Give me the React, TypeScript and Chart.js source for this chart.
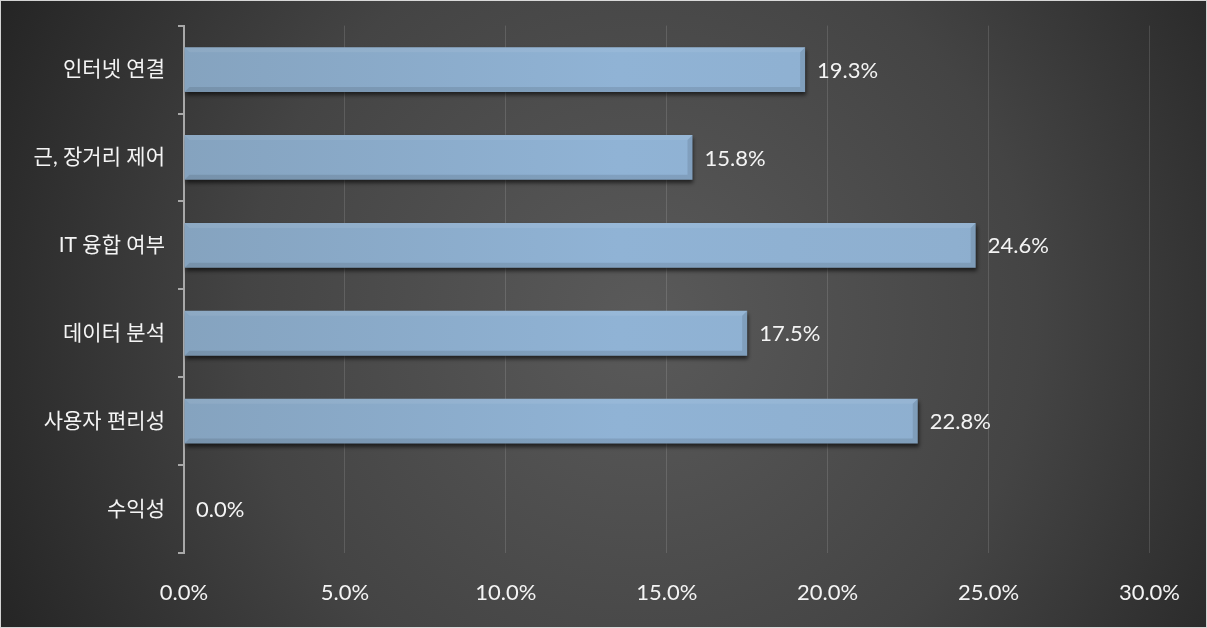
import React, { useEffect, useRef } from "react";
import { Chart, registerables } from "chart.js";

Chart.register(...registerables);

const categories = ["인터넷 연결", "근, 장거리 제어", "IT 융합 여부", "데이터 분석", "사용자 편리성", "수익성"];
const values = [19.3, 15.8, 24.6, 17.5, 22.8, 0.0];
const xTicks = [0, 5, 10, 15, 20, 25, 30];

const FONT = "Lato, 'Noto Sans CJK KR', sans-serif";

const bgPlugin = {
  id: "bg",
  beforeDraw(chart: any) {
    const { ctx, width, height } = chart;
    ctx.save();
    const g = ctx.createRadialGradient(640, 320, 0, 640, 320, 720);
    g.addColorStop(0, "#5a5a5a");
    g.addColorStop(0.55, "#444444");
    g.addColorStop(1, "#242424");
    ctx.fillStyle = g;
    ctx.fillRect(0, 0, width, height);
    ctx.strokeStyle = "rgba(255,255,255,0.8)";
    ctx.lineWidth = 1;
    ctx.strokeRect(0.5, 0.5, width - 1, height - 1);
    ctx.restore();
  },
};

const barDeco = {
  id: "barDeco",
  beforeDatasetsDraw(chart: any) {
    const ctx = chart.ctx;
    ctx.save();
    ctx.shadowColor = "rgba(0,0,0,0.6)";
    ctx.shadowBlur = 4;
    ctx.shadowOffsetX = 1;
    ctx.shadowOffsetY = 3;
  },
  afterDatasetsDraw(chart: any) {
    const ctx = chart.ctx;
    ctx.restore();
    const meta = chart.getDatasetMeta(0);
    ctx.save();
    meta.data.forEach((el: any, i: number) => {
      const p = el.getProps(["x", "y", "base", "height"], true);
      const left = Math.min(p.x, p.base);
      const right = Math.max(p.x, p.base);
      const top = p.y - p.height / 2;
      const bottom = p.y + p.height / 2;
      const w = right - left;
      if (w > 2) {
        const b = Math.min(5, w / 2);
        ctx.fillStyle = "rgba(255,255,255,0.07)";
        ctx.beginPath();
        ctx.moveTo(left, top);
        ctx.lineTo(right, top);
        ctx.lineTo(right - b, top + b);
        ctx.lineTo(left + b, top + b);
        ctx.closePath();
        ctx.fill();
        ctx.fillStyle = "rgba(0,0,0,0.10)";
        ctx.beginPath();
        ctx.moveTo(left, bottom);
        ctx.lineTo(right, bottom);
        ctx.lineTo(right - b, bottom - b);
        ctx.lineTo(left + b, bottom - b);
        ctx.closePath();
        ctx.fill();
        ctx.fillStyle = "rgba(0,0,0,0.10)";
        ctx.beginPath();
        ctx.moveTo(right, top);
        ctx.lineTo(right, bottom);
        ctx.lineTo(right - b, bottom - b);
        ctx.lineTo(right - b, top + b);
        ctx.closePath();
        ctx.fill();
      }
      ctx.fillStyle = "#f4f4f4";
      ctx.font = `22px ${FONT}`;
      ctx.textAlign = "left";
      ctx.textBaseline = "middle";
      ctx.fillText(values[i].toFixed(1) + "%", right + 12, p.y + 1);
    });
    ctx.restore();
  },
};

export default function App() {
  const ref = useRef<HTMLCanvasElement | null>(null);
  useEffect(() => {
    document.body.style.margin = "0";
    const canvas = ref.current;
    if (!canvas) return;
    const chart = new Chart(canvas, {
      type: "bar",
      data: {
        labels: categories,
        datasets: [
          {
            data: values,
            backgroundColor: (c: any) => {
              const { ctx, chartArea } = c.chart;
              if (!chartArea) return "#8aabca";
              const g = ctx.createLinearGradient(chartArea.left, 0, chartArea.right, 0);
              g.addColorStop(0, "#85a3bf");
              g.addColorStop(0.45, "#90b3d5");
              g.addColorStop(0.8, "#8eafcf");
              g.addColorStop(1, "#86a6c4");
              return g;
            },
            borderWidth: 0,
            categoryPercentage: 1,
            barPercentage: 0.51,
          },
        ],
      },
      options: {
        indexAxis: "y",
        animation: false,
        responsive: false,
        devicePixelRatio: 1,
        layout: { padding: { top: 24, right: 54, left: 0, bottom: 0 } },
        plugins: { legend: { display: false }, tooltip: { enabled: false } },
        scales: {
          x: {
            min: 0,
            max: 30,
            afterBuildTicks: (s: any) => {
              s.ticks = xTicks.map((v) => ({ value: v }));
            },
            afterFit: (s: any) => {
              s.height = 75;
            },
            border: { display: false },
            grid: {
              color: "rgba(255,255,255,0.13)",
              lineWidth: 1,
              drawTicks: false,
            },
            ticks: {
              color: "#f4f4f4",
              padding: 27,
              font: { family: FONT, size: 22 },
              callback: (v: any) => Number(v).toFixed(1) + "%",
            },
          },
          y: {
            afterFit: (s: any) => {
              s.width = 184;
            },
            border: { display: true, color: "#a8a8a8", width: 2 },
            grid: {
              display: true,
              drawOnChartArea: false,
              drawTicks: true,
              tickLength: 6,
              color: "#a8a8a8",
              lineWidth: 2,
              offset: true,
            },
            ticks: {
              color: "#f4f4f4",
              padding: 13,
              font: { family: FONT, size: 21 },
            },
          },
        },
      },
      plugins: [bgPlugin, barDeco],
    } as any);
    return () => chart.destroy();
  }, []);
  return (
    <div style={{ width: 1207, height: 628 }}>
      <canvas ref={ref} width={1207} height={628} style={{ display: "block" }} />
    </div>
  );
}
